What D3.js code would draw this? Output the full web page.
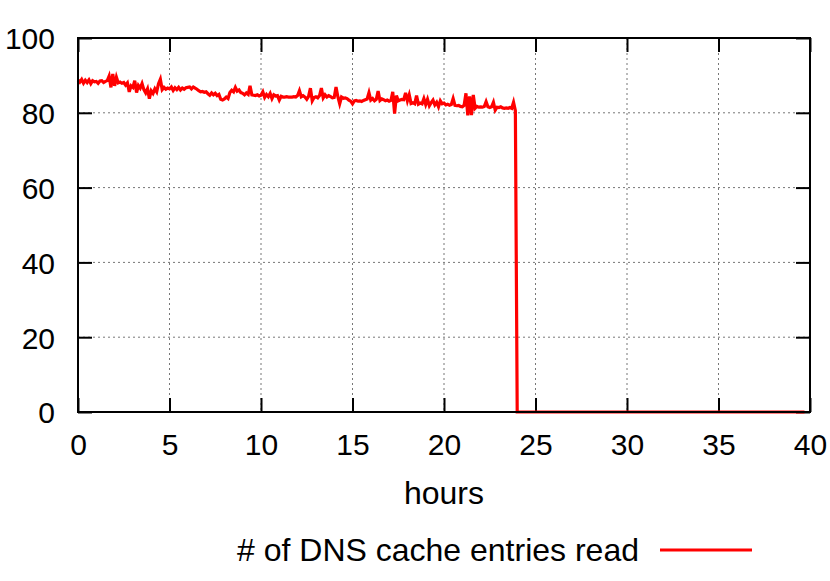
<!DOCTYPE html>
<html>
<head>
<meta charset="utf-8">
<script src="https://cdn.jsdelivr.net/npm/d3@7"></script>
<style>
  body { margin: 0; background: #fff; }
  text { font-family: "Liberation Sans", Arial, sans-serif; fill: #000; }
</style>
</head>
<body>
<div id="chart"></div>
<script>
// samples every 0.1 h, starting at hour 0
const sampleStep = 0.1;
const dnsEntries = [
  88.8, 88.2, 88.9, 87.9, 88.7, 88.1, 88.8, 87.8, 88.6, 88.3,
  88.4, 87.9, 88.5, 88.6, 88.1, 88.4, 88.6, 89.8, 86.8, 90.4,
  87.2, 89.5, 88.0, 88.2, 87.9, 88.1, 87.4, 88.0, 85.6, 87.2,
  86.8, 88.6, 85.4, 87.3, 86.6, 87.8, 86.2, 85.3, 86.4, 83.8,
  85.9, 85.2, 86.4, 85.6, 87.8, 89.0, 86.2, 86.8, 86.3, 86.6,
  86.4, 86.9, 86.0, 86.7, 86.2, 86.8, 86.1, 86.6, 86.3, 86.7,
  86.8, 86.9, 86.4, 86.9, 86.6, 86.3, 85.9, 85.6, 85.7, 85.5,
  85.6, 85.1, 84.7, 85.3, 84.8, 85.2, 84.6, 84.9, 83.6, 83.4,
  83.7, 84.2, 83.8, 85.4, 86.0, 85.6, 86.8, 85.8, 86.1, 85.4,
  85.2, 84.8, 85.3, 84.9, 87.2, 84.8, 84.7, 84.6, 84.8, 84.5,
  84.7, 85.6, 84.1, 84.9, 84.3, 85.2, 83.8, 84.8, 84.5, 84.6,
  83.4, 84.4, 84.2, 84.2, 84.3, 84.2, 84.2, 84.2, 84.3, 84.2,
  84.6, 85.9, 84.3, 84.6, 84.2, 83.6, 84.4, 86.6, 83.2, 84.1,
  84.3, 84.0, 84.6, 86.6, 84.0, 84.8, 84.2, 84.6, 84.3, 84.0,
  84.1, 86.9, 84.3, 82.4, 84.2, 83.9, 84.0, 83.8, 83.4, 83.1,
  82.4, 83.2, 83.3, 83.1, 83.2, 83.0, 83.3, 83.5, 83.7, 85.4,
  83.4, 83.8, 83.2, 83.6, 85.8, 83.3, 83.7, 83.5, 83.2, 83.4,
  83.1, 83.3, 85.6, 79.8, 84.6, 83.2, 83.4, 83.6, 83.5, 85.3,
  83.2, 84.8, 82.5, 82.7, 82.4, 84.6, 82.3, 82.6, 82.4, 83.8,
  82.2, 83.6, 81.9, 82.7, 83.4, 82.1, 82.8, 81.6, 83.2, 82.4,
  82.6, 82.1, 82.3, 82.0, 82.2, 83.8, 82.0, 81.9, 82.0, 81.7,
  81.6, 82.0, 85.2, 79.3, 84.4, 79.4, 84.8, 81.2, 81.7, 81.5,
  81.6, 81.5, 81.7, 83.0, 81.6, 81.4, 81.6, 82.8, 80.7, 81.5,
  81.4, 81.6, 81.3, 81.2, 81.3, 81.2, 81.4, 81.2, 82.8, 80.6,
  0
];
// after the drop the count stays at zero
const tailHours = [24, 39.7];
const tailValues = [0, 0];

const xTicks = [0, 5, 10, 15, 20, 25, 30, 35, 40];
const yTicks = [0, 20, 40, 60, 80, 100];
const xLabel = "hours";
const seriesName = "# of DNS cache entries read";

const width = 830, height = 581;
const margin = { top: 38, right: 20, bottom: 169, left: 78 };
const w = 810 - margin.left;
const h = 412 - margin.top;

const points = dnsEntries.map((v, i) => ({ x: i * sampleStep, y: v }))
  .concat(tailHours.map((t, i) => ({ x: t, y: tailValues[i] })));

const svg = d3.select("#chart")
  .append("svg")
  .attr("width", width)
  .attr("height", height);

const g = svg.append("g")
  .attr("transform", `translate(${margin.left},${margin.top})`);

const x = d3.scaleLinear().domain([0, 40]).range([0, w]);
const y = d3.scaleLinear().domain([0, 100]).range([h, 0]);

// dotted grid
g.append("g")
  .selectAll("line")
  .data(xTicks.slice(1, -1))
  .enter()
  .append("line")
  .attr("x1", d => x(d)).attr("x2", d => x(d))
  .attr("y1", 0).attr("y2", h)
  .attr("stroke", "#777")
  .attr("stroke-width", 1)
  .attr("stroke-dasharray", "2,3");

g.append("g")
  .selectAll("line")
  .data(yTicks.slice(1, -1))
  .enter()
  .append("line")
  .attr("x1", 0).attr("x2", w)
  .attr("y1", d => y(d)).attr("y2", d => y(d))
  .attr("stroke", "#777")
  .attr("stroke-width", 1)
  .attr("stroke-dasharray", "2,3");

// ticks on all four sides, pointing inward
const tickLen = 14;
const bottomAxis = d3.axisBottom(x).tickValues(xTicks).tickSize(-tickLen).tickPadding(22);
const leftAxis = d3.axisLeft(y).tickValues(yTicks).tickSize(-tickLen).tickPadding(23);

g.append("g")
  .attr("transform", `translate(0,${h})`)
  .call(bottomAxis)
  .call(a => a.select(".domain").remove())
  .call(a => a.selectAll("line").attr("stroke-width", 2))
  .call(a => a.selectAll("text").style("font-size", "30px"));

g.append("g")
  .call(leftAxis)
  .call(a => a.select(".domain").remove())
  .call(a => a.selectAll("line").attr("stroke-width", 2))
  .call(a => a.selectAll("text").style("font-size", "30px").attr("dy", "0.36em"));

g.append("g")
  .call(d3.axisTop(x).tickValues(xTicks).tickSize(-tickLen).tickFormat(""))
  .call(a => a.select(".domain").remove())
  .call(a => a.selectAll("line").attr("stroke-width", 2));

g.append("g")
  .attr("transform", `translate(${w},0)`)
  .call(d3.axisRight(y).tickValues(yTicks).tickSize(-tickLen).tickFormat(""))
  .call(a => a.select(".domain").remove())
  .call(a => a.selectAll("line").attr("stroke-width", 2));

// data line
const line = d3.line()
  .x(d => x(d.x))
  .y(d => y(d.y));

g.append("path")
  .datum(points)
  .attr("fill", "none")
  .attr("stroke", "#ff0000")
  .attr("stroke-width", 3.2)
  .attr("stroke-linejoin", "miter")
  .attr("d", line);

// frame
g.append("rect")
  .attr("x", 0).attr("y", 0)
  .attr("width", w).attr("height", h)
  .attr("fill", "none")
  .attr("stroke", "#000")
  .attr("stroke-width", 2);

g.append("text")
  .attr("text-anchor", "middle")
  .attr("x", w / 2)
  .attr("y", h + 92)
  .style("font-size", "32px")
  .text(xLabel);

// legend
const legendY = 550;
svg.append("text")
  .attr("text-anchor", "end")
  .attr("x", 639)
  .attr("y", legendY + 11)
  .style("font-size", "32px")
  .text(seriesName);

svg.append("line")
  .attr("x1", 660).attr("x2", 752)
  .attr("y1", legendY).attr("y2", legendY)
  .attr("stroke", "#ff0000")
  .attr("stroke-width", 3);
</script>
</body>
</html>
